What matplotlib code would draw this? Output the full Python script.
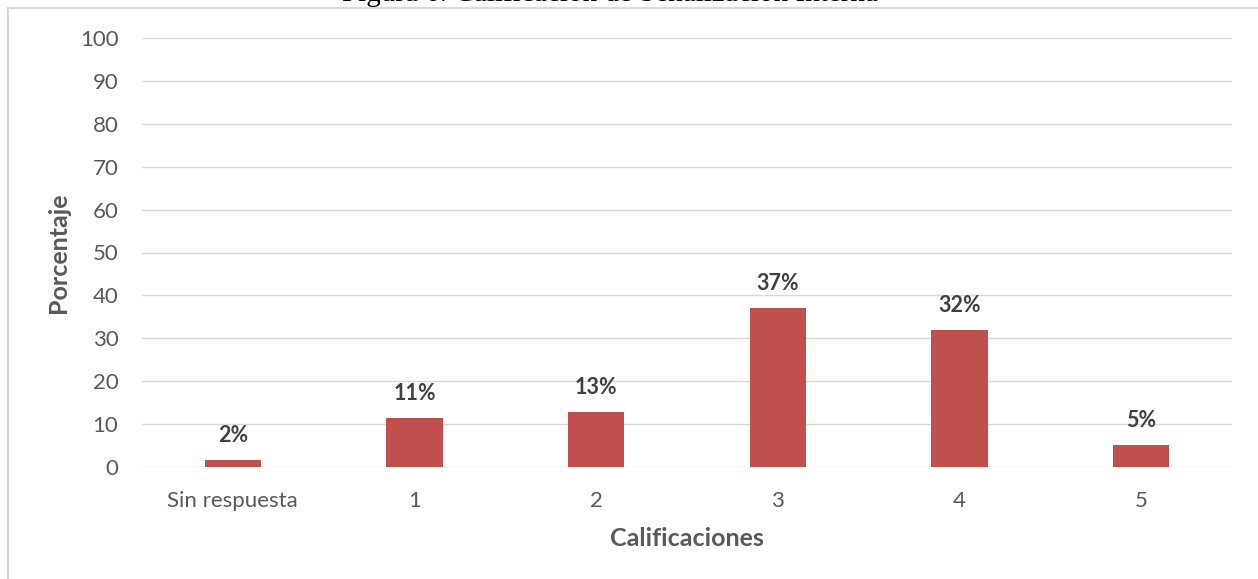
import matplotlib
matplotlib.use("Agg")
import matplotlib.pyplot as plt
from matplotlib.patches import Rectangle

# Data
categories = ["Sin respuesta", "1", "2", "3", "4", "5"]
percentages = [1.6, 11.4, 12.8, 37.1, 31.9, 5.1]
y_ticks = [0, 10, 20, 30, 40, 50, 60, 70, 80, 90, 100]

title_text = "Figura 6. Calificación de Señalización Interna"
x_label = "Calificaciones"
y_label = "Porcentaje"

BAR_COLOR = "#C0504D"
GRID_COLOR = "#D9D9D9"
TICK_COLOR = "#595959"
LABEL_COLOR = "#404040"
FONT = ["Lato", "DejaVu Sans"]

W, H = 1258, 579
fig = plt.figure(figsize=(W / 100, H / 100), dpi=100)
fig.patch.set_facecolor("white")

# Chart frame (open on the right and bottom edges)
fig.patches.append(Rectangle((8 / W, -0.05), 1.2, 1 - 8 / H + 0.05,
                             transform=fig.transFigure, fill=False,
                             edgecolor=GRID_COLOR, linewidth=1.5, zorder=0))

# Caption above the chart
fig.text(610 / W, 1 - 1 / H, title_text, ha="center", va="baseline",
         family=["Liberation Serif", "DejaVu Serif"], fontsize=21, color="black")

ax = fig.add_axes([142 / W, 1 - 467 / H, (1232 - 142) / W, (467 - 38) / H])
ax.set_facecolor("none")

x = list(range(len(categories)))
bars = ax.bar(x, percentages, width=0.31, color=BAR_COLOR, zorder=3)

for xi, v in zip(x, percentages):
    ax.annotate(f"{v:.0f}%", xy=(xi, v), xytext=(0, 10), textcoords="offset points",
                ha="center", va="bottom", fontsize=15.5, fontweight="bold",
                color=LABEL_COLOR, family=FONT)

ax.set_xlim(-0.5, len(categories) - 0.5)
ax.set_ylim(0, 100)
ax.set_yticks(y_ticks)
ax.set_xticks(x)
ax.set_xticklabels(categories)
ax.grid(axis="y", color=GRID_COLOR, linewidth=1.0, zorder=0)
ax.set_axisbelow(True)
for s in ax.spines.values():
    s.set_visible(False)
ax.tick_params(axis="both", length=0, colors=TICK_COLOR, labelsize=16)
ax.tick_params(axis="y", pad=17)
ax.tick_params(axis="x", pad=17)
for lbl in ax.get_xticklabels() + ax.get_yticklabels():
    lbl.set_family(FONT)

ax.set_xlabel(x_label, fontsize=18, fontweight="bold", color=TICK_COLOR,
              family=FONT, labelpad=12)
ax.set_ylabel(y_label, fontsize=18, fontweight="bold", color=TICK_COLOR,
              family=FONT, labelpad=7)

fig.savefig("out.png", dpi=100, facecolor="white")
